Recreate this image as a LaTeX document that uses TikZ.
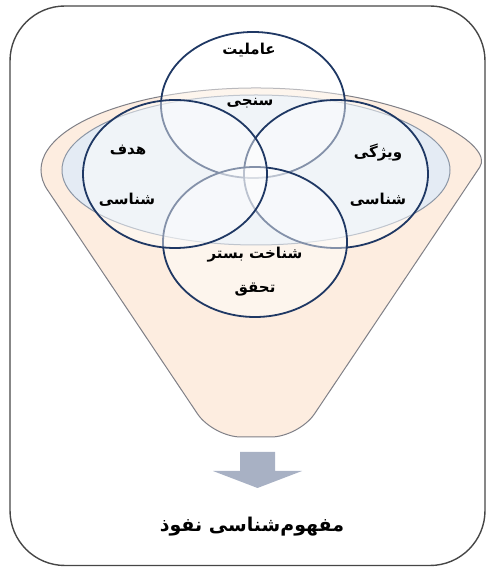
\documentclass[tikz,border=0pt]{standalone}
\usepackage{fontspec}
\newfontfamily\fa[Script=Arabic]{DejaVu Sans}
\TeXXeTstate=1
\definecolor{boxline}{RGB}{70,70,70}
\definecolor{peach}{RGB}{253,237,224}
\definecolor{funnelline}{RGB}{128,128,135}
\definecolor{rimfill}{RGB}{228,235,244}
\definecolor{rimline}{RGB}{140,150,165}
\definecolor{navy}{RGB}{31,56,100}
\definecolor{arrowgray}{RGB}{168,177,196}
\tikzset{
  venn/.style={draw=navy, line width=1.8pt, fill=white, fill opacity=0.45, draw opacity=1},
  lbl/.style={font=\fa\bfseries\fontsize{15}{18}\selectfont, text=black, inner sep=1pt},
  biglbl/.style={font=\fa\bfseries\fontsize{19}{22}\selectfont, text=black, inner sep=1pt}
}
\begin{document}
\begin{tikzpicture}[x=1pt,y=1pt]
\useasboundingbox (0,0) rectangle (488,567);
% outer frame
\draw[boxline, line width=1.4pt, rounded corners=55pt] (10,1.5) rectangle (485,561);
% funnel
\draw[funnelline, line width=1pt, fill=peach]
  (47.7,376.75) [rounded corners=28pt] -- (213,130) -- (299,130) -- (464.3,376.75) [sharp corners]
  arc[start angle=-14.3, end angle=194.3, x radius=215, y radius=82] -- cycle;
% opening of the funnel
\draw[rimline, line width=1pt, fill=rimfill] (256,397) ellipse [x radius=194, y radius=75];
% four overlapping ellipses
\draw[venn] (253,462) ellipse [x radius=92, y radius=73];
\draw[venn] (336,393) ellipse [x radius=92, y radius=74];
\draw[venn] (255,325) ellipse [x radius=92, y radius=75];
\draw[venn] (175,393) ellipse [x radius=92, y radius=74];
% labels
\node[lbl] (t1) at (249,517) {\beginR عاملیت\endR};
\node[lbl] (t2) at (250,464) {\beginR سنجی\endR};
\node[lbl] (l1) at (128,417) {\beginR هدف\endR};
\node[lbl] (l2) at (127,367) {\beginR شناسی\endR};
\node[lbl] (r1) at (378,414) {\beginR ویژگی\endR};
\node[lbl] (r2) at (378,367) {\beginR شناسی\endR};
\node[lbl] (b1) at (255,312) {\beginR شناخت بستر\endR};
\node[lbl] (b2) at (255,277) {\beginR تحقق\endR};
% arrow
\fill[arrowgray] (240,115) -- (275,115) -- (275,96) -- (302,96) -- (257.5,79) -- (213,96) -- (240,96) -- cycle;
% result
\node[biglbl] (res) at (252,40) {\beginR مفهوم^^^^200cشناسی نفوذ\endR};
\end{tikzpicture}
\end{document}
